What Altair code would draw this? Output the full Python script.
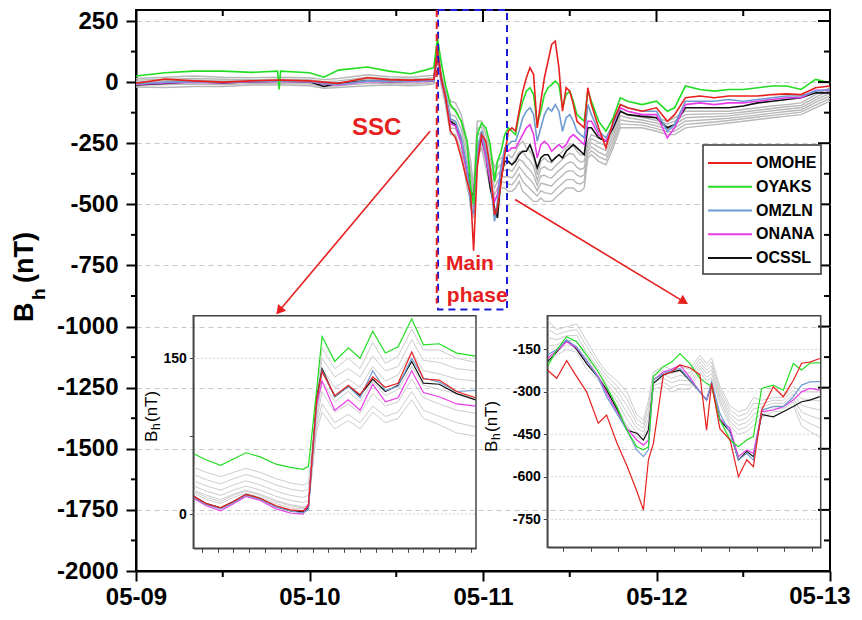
import json
import altair as alt
import pandas as pd

FONT = "Liberation Sans"
RED = "#e62020"
INK = "#444444"

stations = ["OMOHE", "OYAKS", "OMZLN", "ONANA", "OCSSL"]
station_colors = ["#e8201e", "#22dd22", "#6f9bd1", "#e83ce8", "#111111"]
draw_order = ["OCSSL", "ONANA", "OMZLN", "OYAKS", "OMOHE"]
day_labels = ["05-09", "05-10", "05-11", "05-12", "05-13"]
day_ticks = [0, 24, 48, 72, 96]
half_ticks = [12, 36, 60, 84]
y_ticks = list(range(-2000, 251, 250))
y_minor = list(range(-1875, 251, 250))

# ---------------- main panel (hours since 05-09 00:00) ----------------
main_hours = [0, 4, 8, 12, 16, 19.6, 19.8, 20, 24, 26, 28, 32, 35, 38, 40, 41.2,
              41.7, 42.2, 42.8, 43.5, 44.2, 45, 45.8, 46.3, 46.7, 47.2, 47.8, 48.4, 49, 49.6, 50,
              50.5, 51, 51.5, 52, 52.5, 53, 53.5, 54, 54.5, 55, 55.5, 56, 56.5, 57, 57.5, 58,
              58.5, 59, 59.5, 60, 60.5, 61, 61.5, 62, 62.5, 63,
              64, 65, 66, 67, 68, 70, 72, 73.5, 74.5, 76, 78, 80, 82, 84, 86, 88, 90, 92, 94, 96]
main_omohe = [-5, 12, 5, 0, 5, 8, 8, 8, 5, 0, -5, 18, 10, 8, 10, 12,
              130, 20, -60, -200, -228, -310, -406, -460, -690, -351, -215, -242, -351, -543, -515,
              -410, -300, -201, -187, -200, -119, -37, 18, 59, 31, -187, -78, 18, 86, 154, 168,
              59, -119, -23, -37, -92, -160, -174, -187, -23, -92,
              -187, -269, -160, -92, -105, -119, -105, -160, -133, -64, -57, -64, -57, -57, -57, -51, -48, -51, -23, -16]
main_oyaks = [25, 38, 45, 45, 40, 45, -30, 45, 38, 20, 49, 62, 45, 34, 49, 59,
              180, 86, -10, -92, -119, -160, -242, -433, -500, -215, -167, -187, -256, -406, -324,
              -283, -215, -187, -201, -215, -133, -78, -37, -23, -51, -174, -119, -51, -23, -10, 4,
              -10, -105, -51, -37, -78, -133, -146, -160, -37, -78,
              -160, -201, -146, -64, -78, -92, -78, -119, -105, -16, -30, -37, -30, -30, -23, -16, -16, -30, 11, -3]
main_omzln = [-8, 0, 2, 0, 3, 5, 5, 5, 3, -5, -10, 5, 3, 5, 5, 8,
              128, 18, -50, -150, -160, -230, -350, -515, -540, -280, -200, -283, -379, -570, -488,
              -351, -269, -256, -242, -242, -200, -146, -119, -105, -133, -242, -187, -133, -105, -119, -92,
              -119, -201, -146, -133, -160, -201, -215, -228, -92, -133,
              -201, -228, -174, -92, -105, -119, -119, -201, -174, -78, -78, -78, -71, -78, -71, -64, -57, -57, -37, -30]
main_onana = [-10, -3, 0, -2, 2, 3, 3, 3, 2, -8, -12, 3, 2, 3, 3, 6,
              118, 10, -60, -170, -180, -250, -370, -460, -480, -300, -220, -310, -406, -488, -460,
              -351, -283, -283, -269, -269, -242, -215, -187, -174, -215, -310, -256, -242, -256, -283, -269,
              -256, -269, -256, -228, -215, -228, -242, -256, -160, -160,
              -215, -242, -174, -105, -119, -133, -133, -228, -187, -92, -85, -92, -85, -85, -78, -71, -64, -64, -34, -34]
main_ocssl = [-12, -5, 2, -3, 2, 4, 4, 4, 2, -18, -5, 5, 2, 4, 5, 7,
              130, 15, -55, -160, -175, -245, -360, -447, -470, -290, -230, -297, -433, -515, -556,
              -390, -324, -324, -338, -324, -297, -283, -283, -256, -297, -351, -310, -297, -297, -324, -310,
              -297, -310, -283, -269, -256, -269, -283, -297, -187, -187,
              -228, -242, -187, -119, -133, -140, -146, -187, -174, -105, -105, -105, -105, -98, -85, -78, -71, -64, -44, -44]
main_gray = [
    [15, 20, 25, 20, 18, 20, 20, 20, 18, 10, 15, 30, 22, 20, 25, 28,
     160, 40, -30, -78, -85, -133, -242, -324, -433, -160, -160, -215, -283, -351, -324,
     -310, -315, -297, -310, -283, -256, -242, -269, -283, -310, -379, -324, -310, -324, -330, -310,
     -297, -283, -269, -256, -260, -283, -297, -297, -242, -215,
     -228, -242, -187, -105, -119, -133, -146, -160, -146, -119, -119, -119, -119, -112, -105, -98, -92, -85, -51, -23],
    [8, 12, 15, 12, 10, 12, 12, 12, 10, 2, 5, 20, 14, 12, 15, 18,
     146, 30, -42, -105, -110, -163, -280, -357, -458, -190, -182, -242, -313, -378, -351,
     -335, -340, -327, -337, -313, -286, -283, -307, -321, -346, -401, -354, -346, -357, -360, -343,
     -330, -316, -302, -291, -295, -316, -327, -324, -256, -231,
     -247, -261, -203, -121, -133, -144, -157, -171, -160, -133, -131, -130, -129, -122, -115, -108, -101, -95, -62, -34],
    [2, 5, 8, 5, 5, 6, 6, 6, 5, -5, -2, 12, 8, 6, 8, 10,
     132, 20, -54, -133, -140, -193, -318, -390, -482, -220, -204, -269, -343, -406, -378,
     -359, -362, -357, -365, -343, -316, -324, -345, -359, -381, -423, -384, -381, -390, -392, -376,
     -362, -349, -335, -327, -330, -349, -357, -351, -269, -248,
     -266, -280, -220, -138, -146, -155, -168, -182, -174, -146, -143, -141, -138, -131, -124, -117, -111, -104, -73, -45],
    [-5, -2, 0, -2, 0, 0, 0, 0, -1, -10, -8, 5, 2, 0, 2, 4,
     118, 10, -66, -160, -165, -223, -357, -422, -507, -250, -225, -297, -373, -433, -406,
     -384, -388, -387, -392, -373, -346, -365, -384, -398, -417, -444, -414, -417, -422, -425, -408,
     -395, -381, -367, -362, -365, -381, -387, -379, -283, -264,
     -286, -300, -236, -154, -160, -165, -179, -193, -187, -160, -156, -152, -148, -141, -134, -127, -120, -114, -83, -56],
    [-12, -10, -8, -10, -6, -6, -6, -6, -8, -18, -15, -5, -6, -8, -5, -2,
     104, 0, -78, -188, -190, -253, -395, -455, -531, -280, -247, -324, -403, -461, -433,
     -408, -410, -417, -420, -403, -376, -406, -422, -436, -452, -466, -444, -452, -455, -458, -441,
     -427, -414, -400, -398, -400, -414, -417, -406, -297, -281,
     -305, -319, -253, -171, -173, -176, -190, -204, -201, -173, -168, -163, -157, -150, -143, -136, -130, -123, -94, -67],
    [-20, -22, -18, -18, -12, -12, -12, -12, -15, -25, -22, -15, -12, -15, -12, -8,
     90, -10, -90, -215, -215, -283, -433, -488, -556, -310, -269, -351, -433, -488, -460,
     -433, -433, -447, -447, -433, -406, -447, -460, -474, -488, -488, -474, -488, -488, -488, -474,
     -460, -447, -433, -433, -433, -447, -447, -433, -310, -297,
     -324, -338, -269, -187, -187, -187, -201, -215, -215, -187, -180, -174, -167, -160, -153, -146, -139, -133, -105, -78],
]

# ---------------- SSC inset (minutes) ----------------
ssc_minutes = [-2.5, 1.5, 6, 10, 14, 18.5, 23.5, 28, 32, 33.7, 36.3, 38, 42, 46.3, 50, 54, 58, 62, 66.3, 70, 75, 80.5, 86.5]
ssc_omohe = [17, 10, 6, 12, 19, 15, 8, 4, 3, 8, 110, 137, 114, 124, 115, 132, 122, 126, 156, 130, 129, 118, 112]
ssc_oyaks = [58, 52, 47, 53, 59, 55, 48, 45, 43, 46, 120, 171, 147, 160, 150, 176, 155, 161, 188, 163, 164, 155, 152]
ssc_omzln = [16, 9, 5, 11, 18, 14, 7, 3, 1, 4, 108, 138, 113, 123, 112, 138, 119, 123, 150, 131, 127, 118, 119]
ssc_onana = [15, 8, 3, 10, 17, 13, 5, 1, 0, 10, 105, 128, 100, 110, 100, 125, 108, 112, 138, 117, 113, 106, 104]
ssc_ocssl = [17, 10, 6, 12, 19, 15, 7, 3, 2, 6, 112, 140, 113, 123, 114, 130, 118, 124, 147, 126, 125, 116, 110]
ssc_gray = [
    [45, 40, 36, 40, 44, 40, 34, 30, 28, 30, 110, 160, 140, 150, 140, 165, 145, 152, 178, 158, 158, 150, 146],
    [38, 33, 29, 34, 38, 34, 28, 24, 22, 24, 105, 150, 132, 140, 132, 152, 138, 142, 168, 148, 146, 140, 138],
    [32, 27, 23, 28, 32, 28, 22, 18, 16, 18, 100, 140, 122, 130, 122, 142, 128, 134, 156, 138, 135, 130, 128],
    [27, 22, 18, 23, 27, 23, 17, 13, 11, 13, 95, 128, 108, 118, 108, 128, 114, 120, 142, 124, 120, 116, 112],
    [23, 18, 14, 19, 23, 19, 13, 9, 7, 9, 90, 118, 98, 106, 97, 116, 104, 108, 130, 112, 106, 100, 97],
    [20, 14, 10, 16, 20, 16, 10, 6, 5, 6, 85, 106, 88, 96, 88, 104, 94, 98, 118, 100, 94, 88, 84],
    [22, 16, 12, 18, 22, 18, 12, 8, 6, 8, 80, 98, 82, 90, 82, 98, 88, 92, 110, 92, 86, 78, 75],
]

# ---------------- main-phase inset (hours since 05-09 00:00) ----------------
mp_hours = [43.44, 43.78, 44.14, 44.5, 44.86, 45.28, 45.58, 45.95, 46.31, 46.67, 46.91, 47.09, 47.27, 47.63,
            47.93, 48.23, 48.59, 48.95, 49.19, 49.37, 49.67, 50.04, 50.34, 50.64, 50.88, 51.18, 51.6, 51.96,
            52.32, 52.62, 52.92, 53.28]
mp_omohe = [-223, -252, -190, -246, -300, -411, -382, -480, -560, -650, -717, -540, -482, -240, -229, -205,
            -215, -240, -435, -270, -430, -470, -600, -540, -564, -364, -282, -317, -260, -199, -195, -182]
mp_oyaks = [-211, -152, -105, -123, -170, -229, -282, -352, -435, -494, -505, -494, -246, -211, -195, -165,
            -200, -252, -270, -282, -399, -470, -494, -470, -458, -288, -276, -294, -200, -223, -199, -197]
mp_omzln = [-170, -150, -117, -141, -190, -250, -317, -376, -435, -505, -529, -505, -258, -235, -225, -217,
            -258, -300, -329, -264, -376, -446, -541, -517, -541, -364, -352, -352, -317, -276, -265, -264]
mp_onana = [-182, -155, -123, -145, -190, -245, -305, -370, -429, -470, -488, -470, -258, -230, -220, -205,
            -250, -300, -329, -270, -395, -430, -529, -505, -517, -370, -364, -352, -329, -300, -288, -294]
mp_ocssl = [-194, -160, -117, -150, -200, -250, -293, -360, -435, -446, -470, -435, -270, -240, -230, -223,
            -260, -300, -329, -275, -400, -440, -541, -510, -529, -380, -388, -370, -352, -335, -329, -317]
mp_gray = [
    [-46, -80, -70, -60, -120, -190, -230, -260, -300, -380, -400, -330, -230, -210, -220, -210,
     -220, -170, -200, -180, -280, -350, -370, -360, -320, -330, -320, -320, -280, -300, -300, -300],
    [-77, -98, -86, -80, -140, -204, -244, -278, -324, -396, -414, -352, -242, -224, -236, -226,
     -234, -182, -212, -194, -292, -364, -386, -376, -340, -342, -330, -330, -294, -324, -328, -332],
    [-108, -116, -102, -100, -160, -218, -258, -296, -348, -412, -428, -374, -254, -238, -252, -242,
     -248, -194, -224, -208, -304, -378, -402, -392, -360, -354, -340, -340, -308, -348, -356, -364],
    [-138, -134, -118, -120, -180, -232, -272, -314, -372, -428, -442, -396, -266, -252, -268, -258,
     -262, -206, -236, -222, -316, -392, -418, -408, -380, -366, -350, -350, -322, -372, -384, -396],
    [-169, -152, -134, -140, -200, -246, -286, -332, -396, -444, -456, -418, -278, -266, -284, -274,
     -276, -218, -248, -236, -328, -406, -434, -424, -400, -378, -360, -360, -336, -396, -412, -428],
    [-200, -170, -150, -160, -220, -260, -300, -350, -420, -460, -470, -440, -290, -280, -300, -290,
     -290, -230, -260, -250, -340, -420, -450, -440, -420, -390, -370, -370, -350, -420, -440, -460],
]

# ---------------- annotations (main-panel data units) ----------------
arrow_start_t = [40.67, 52.43]
arrow_start_v = [-201, -480]
arrow_end_t = [19.5, 76.22]
arrow_end_v = [-947, -906]
head_t = [19.95, 75.63]
head_v = [-931, -895]
head_angle = [220, 121]
box_t = [41.78, 51.32]
box_v = [295, -930]
ssc_line_t = 41.6
ssc_line_v = [295, -906]
note_t = [33.3, 46.2, 47.2]
note_v = [-189, -746, -877]
note_text = ["SSC", "Main", "phase"]
note_size = [24, 21, 21]
last_label_t = 94.6

W, H = 694, 561


def long_frames(xname, xs, series, gray):
    rows, grows = [], []
    named = dict(zip(stations, series))
    for name in draw_order:
        vals = named[name]
        assert len(vals) == len(xs), (xname, name, len(vals), len(xs))
        for x, v in zip(xs, vals):
            rows.append({xname: x, "v": v, "station": name})
    for i, vals in enumerate(gray):
        assert len(vals) == len(xs), (xname, "gray", i, len(vals), len(xs))
        for x, v in zip(xs, vals):
            grows.append({xname: x, "v": v, "series": f"g{i}"})
    return pd.DataFrame(rows), pd.DataFrame(grows)


main_df, main_gray_df = long_frames("t", main_hours,
                                    [main_omohe, main_oyaks, main_omzln, main_onana, main_ocssl], main_gray)
ssc_df, ssc_gray_df = long_frames("m", ssc_minutes,
                                  [ssc_omohe, ssc_oyaks, ssc_omzln, ssc_onana, ssc_ocssl], ssc_gray)
mp_df, mp_gray_df = long_frames("t", mp_hours,
                                [mp_omohe, mp_oyaks, mp_omzln, mp_onana, mp_ocssl], mp_gray)

COLOR = alt.Color("station:N", scale=alt.Scale(domain=stations, range=station_colors), legend=None)

XLAB_PAD = 4
label_expr = "datum.value == 96 ? '' : " + json.dumps(day_labels) + "[round(datum.value / 24)]"
X = alt.X("t:Q", scale=alt.Scale(domain=[0, 96], nice=False, zero=False),
          axis=alt.Axis(values=day_ticks, labelExpr=label_expr, title=None, grid=False,
                        tickSize=10, tickWidth=2, tickColor="black", domainColor="black", domainWidth=2,
                        labelFont=FONT, labelFontSize=24, labelFontWeight="bold", labelColor="black",
                        labelPadding=XLAB_PAD, labelFlush=False))
Y = alt.Y("v:Q", scale=alt.Scale(domain=[-2000, 295], nice=False, zero=False),
          axis=alt.Axis(values=y_ticks, labelExpr="'' + datum.value", title=None, grid=True,
                        gridDash=[5, 4], gridColor="#c8c8c8",
                        gridWidth=1, tickSize=10, tickWidth=2, tickColor="black", domainColor="black",
                        domainWidth=2, labelFont=FONT, labelFontSize=24, labelFontWeight="bold",
                        labelColor="black", labelPadding=8, labelFlush=False))

gray_lines = alt.Chart(main_gray_df).mark_line(color="#b8b8b8", strokeWidth=1.4).encode(
    x=X, y=Y, detail="series:N")
col_lines = alt.Chart(main_df).mark_line(strokeWidth=1.6).encode(x=X, y=Y, color=COLOR)

one = pd.DataFrame({"a": [0]})
top_major = alt.Chart(pd.DataFrame({"t": day_ticks})).mark_rule(color="black", strokeWidth=2).encode(
    x=X, y=alt.value(0), y2=alt.value(12))
top_minor = alt.Chart(pd.DataFrame({"t": half_ticks})).mark_rule(color="black", strokeWidth=2).encode(
    x=X, y=alt.value(0), y2=alt.value(6))
bot_minor = alt.Chart(pd.DataFrame({"t": half_ticks})).mark_rule(color="black", strokeWidth=2).encode(
    x=X, y=alt.value(H), y2=alt.value(H + 6))
left_minor = alt.Chart(pd.DataFrame({"v": y_minor})).mark_rule(color="black", strokeWidth=2).encode(
    y=Y, x=alt.value(-5), x2=alt.value(0))
right_major = alt.Chart(pd.DataFrame({"v": y_ticks})).mark_rule(color="black", strokeWidth=2).encode(
    y=Y, x=alt.value(W - 12), x2=alt.value(W))
right_minor = alt.Chart(pd.DataFrame({"v": y_minor})).mark_rule(color="black", strokeWidth=2).encode(
    y=Y, x=alt.value(W - 6), x2=alt.value(W))
last_label = alt.Chart(pd.DataFrame({"t": [last_label_t], "lab": [day_labels[-1]]})).mark_text(
    font=FONT, fontSize=24, fontWeight="bold", color="black", align="center", baseline="top").encode(
    x=X, y=alt.value(H + 10 + XLAB_PAD), text="lab:N")

box = alt.Chart(pd.DataFrame({"t": [box_t[0]], "t2": [box_t[1]], "v": [box_v[0]], "v2": [box_v[1]]})).mark_rect(
    fillOpacity=0, stroke="#1a1ad8", strokeWidth=2, strokeDash=[7, 5]).encode(
    x=X, x2="t2:Q", y=Y, y2="v2:Q")
ssc_line = alt.Chart(pd.DataFrame({"t": [ssc_line_t], "v": [ssc_line_v[0]], "v2": [ssc_line_v[1]]})).mark_rule(
    color=RED, strokeWidth=2, strokeDash=[7, 5]).encode(x=X, y=Y, y2="v2:Q")
arrows = alt.Chart(pd.DataFrame({"t": arrow_start_t, "v": arrow_start_v,
                                 "t2": arrow_end_t, "v2": arrow_end_v})).mark_rule(
    color=RED, strokeWidth=1.6).encode(x=X, y=Y, x2="t2:Q", y2="v2:Q")
heads = alt.Chart(pd.DataFrame({"t": head_t, "v": head_v, "ang": head_angle})).mark_point(
    shape="triangle", filled=True, size=110, color=RED, opacity=1).encode(
    x=X, y=Y, angle=alt.Angle("ang:Q", scale=None))
notes = alt.Chart(pd.DataFrame({"t": note_t, "v": note_v, "label": note_text, "size": note_size})).mark_text(
    color=RED, fontWeight="bold", font=FONT, align="center", baseline="middle").encode(
    x=X, y=Y, text="label:N", size=alt.Size("size:Q", scale=None))


def piece(txt, x, y, size, bold):
    return alt.Chart(pd.DataFrame({"txt": [txt]})).mark_text(
        angle=270, align="left", baseline="alphabetic", font=FONT, fontSize=size,
        fontWeight="bold" if bold else "normal", color="black").encode(
        x=alt.value(x), y=alt.value(y), text="txt:N")


titles = [
    piece("B", -103, 312, 27, True), piece("h", -91, 290, 19, True), piece("(nT)", -103, 273, 27, True),
    piece("B", 21, 432, 17, False), piece("h", 24, 420, 12, False), piece("(nT)", 21, 412, 17, False),
    piece("B", 361, 442, 17, False), piece("h", 364, 430, 12, False), piece("(nT)", 361, 422, 17, False),
]

main_layer = alt.layer(gray_lines, col_lines, top_major, top_minor, bot_minor, left_minor,
                       right_major, right_minor, last_label, box, ssc_line, arrows, heads, notes, *titles)


# ---------------- insets ----------------
def inset(df, gdf, xfield, xdom, xr, xticks, ydom, yr, yvals, ygrid, label_expr_y):
    IX = alt.X(f"{xfield}:Q", scale=alt.Scale(domain=xdom, range=xr, nice=False, zero=False),
               axis=alt.Axis(orient="bottom", offset=-(H - yr[0]), values=xticks, labels=False, title=None,
                             grid=False, tickSize=4, tickColor=INK, domainColor=INK, domainWidth=1.5))
    IY = alt.Y("v:Q", scale=alt.Scale(domain=ydom, range=yr, nice=False, zero=False),
               axis=alt.Axis(orient="left", offset=-xr[0], values=yvals, labelExpr=label_expr_y, title=None,
                             grid=False, tickSize=4, tickColor=INK, domainColor=INK, domainWidth=1.5,
                             labelFont=FONT, labelFontSize=14, labelFontWeight="bold", labelColor="black",
                             labelPadding=3))
    grid = alt.Chart(pd.DataFrame({"v": ygrid})).mark_rule(color="#cfcfcf", strokeDash=[2, 2]).encode(
        y=IY, x=alt.value(xr[0]), x2=alt.value(xr[1]))
    g = alt.Chart(gdf).mark_line(color="#cdcdcd", strokeWidth=1).encode(x=IX, y=IY, detail="series:N")
    c = alt.Chart(df).mark_line(strokeWidth=1.2).encode(x=IX, y=IY, color=COLOR)
    frame = alt.Chart(one).mark_rect(fillOpacity=0, stroke=INK, strokeWidth=1.5).encode(
        x=alt.value(xr[0]), x2=alt.value(xr[1]), y=alt.value(yr[1]), y2=alt.value(yr[0]))
    return alt.layer(grid, g, c, frame)


left_inset = inset(ssc_df, ssc_gray_df, "m", [-2.65, 86.6], [57.3, 340], list(range(0, 86, 5)),
                   [-33, 191], [538.3, 305.7], [0, 75, 150], [0, 150],
                   "datum.value == 75 ? '' : '' + datum.value")
right_inset = inset(mp_df, mp_gray_df, "t", [43.44, 53.31], [411.3, 684.7], list(range(44, 54)),
                    [-849, -31], [537.3, 305.7], [-750, -600, -450, -300, -150],
                    [-750, -600, -450, -300, -150], "'' + datum.value")

# ---------------- legend ----------------
leg_df = pd.DataFrame({"station": stations})
LEGY = alt.Y("station:N", scale=alt.Scale(type="point", domain=stations, range=[153, 248], padding=0), axis=None)
leg_box = alt.Chart(one).mark_rect(fill="white", stroke="#333333", strokeWidth=1.5).encode(
    x=alt.value(567), x2=alt.value(685), y=alt.value(135), y2=alt.value(264))
leg_lines = alt.Chart(leg_df).mark_rule(strokeWidth=2).encode(
    y=LEGY, x=alt.value(572), x2=alt.value(616), color=COLOR)
leg_text = alt.Chart(leg_df).mark_text(align="left", baseline="middle", fontSize=16, fontWeight="bold",
                                       font=FONT, color="black").encode(
    y=LEGY, x=alt.value(620), text="station:N")
legend = alt.layer(leg_box, leg_lines, leg_text)

chart = alt.layer(main_layer, left_inset, right_inset, legend).resolve_scale(
    x="independent", y="independent"
).properties(
    width=W, height=H,
    autosize=alt.AutoSizeParams(type="none"),
    padding={"left": 128, "top": 2, "right": 24, "bottom": 41},
).configure_view(stroke="black", strokeWidth=2)

chart.save("out.html", embed_options={"renderer": "svg", "actions": False})
